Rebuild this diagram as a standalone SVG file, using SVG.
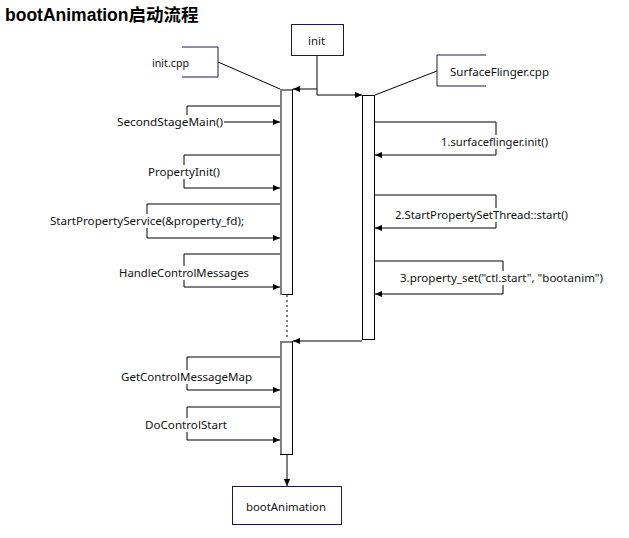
<svg xmlns="http://www.w3.org/2000/svg" width="629" height="538" viewBox="0 0 629 538">
<defs>
<marker id="arr" viewBox="0 0 8 8" refX="8" refY="4" markerWidth="7" markerHeight="7" markerUnits="userSpaceOnUse" orient="auto">
<path d="M0,0.5 L8,4 L0,7.5 Z" fill="#000"/>
</marker>
<style>
.t{font-family:"Noto Sans","Liberation Sans",sans-serif;font-size:11.5px;fill:#111;}
.box{fill:#fff;stroke:#1a1a4a;stroke-width:1;}
.note{fill:none;stroke:#1a1a4a;stroke-width:1;}
.act{fill:#fff;stroke:#000;stroke-width:1;}
.sh{fill:none;stroke:#808080;stroke-width:2;}
.c{fill:none;stroke:#000;stroke-width:1;}
.ca{fill:none;stroke:#000;stroke-width:1;marker-end:url(#arr);}
.bg{fill:#fff;stroke:none;}
</style>
</defs>
<rect width="629" height="538" fill="#fff"/>
<text x="5" y="21" font-family="'Liberation Sans','Noto Sans CJK SC',sans-serif" font-size="17.5" font-weight="bold" fill="#000">bootAnimation启动流程</text>

<g id="connectors">
<path class="c" d="M218,62 L280,89" stroke="#1a1a4a"/>
<path class="c" d="M437,71 L375,95" stroke="#1a1a4a"/>
<path class="c" d="M317,56 V95"/>
<path class="ca" d="M317,89 H293"/>
<path class="ca" d="M317,95 H362"/>
<path class="c" d="M287,295 V340" stroke-dasharray="2,3"/>
<path class="ca" d="M362,341 H293"/>
<path class="ca" d="M287,455 V486"/>
<g id="selfcalls">
<path class="ca" d="M280,106 H187 V122 H280"/>
<rect class="bg" x="116" y="115" width="108" height="14"/>
<text class="t" x="117" y="126" textLength="106" lengthAdjust="spacingAndGlyphs">SecondStageMain()</text>

<path class="ca" d="M280,155 H184 V188 H280"/>
<rect class="bg" x="147" y="165" width="74" height="14"/>
<text class="t" x="148" y="176" textLength="72" lengthAdjust="spacingAndGlyphs">PropertyInit()</text>

<path class="ca" d="M280,204 H147 V238 H280"/>
<rect class="bg" x="49" y="214" width="196" height="14"/>
<text class="t" x="50" y="225" textLength="194" lengthAdjust="spacingAndGlyphs">StartPropertyService(&amp;property_fd);</text>

<path class="ca" d="M280,254 H184 V287 H280"/>
<rect class="bg" x="118" y="266" width="132" height="14"/>
<text class="t" x="119" y="277" textLength="130" lengthAdjust="spacingAndGlyphs">HandleControlMessages</text>

<path class="ca" d="M280,357 H187 V390 H280"/>
<rect class="bg" x="120" y="370" width="133" height="14"/>
<text class="t" x="121" y="381" textLength="131" lengthAdjust="spacingAndGlyphs">GetControlMessageMap</text>

<path class="ca" d="M280,407 H187 V440 H280"/>
<rect class="bg" x="144" y="418" width="84" height="14"/>
<text class="t" x="145" y="429" textLength="82" lengthAdjust="spacingAndGlyphs">DoControlStart</text>

<path class="ca" d="M375,122 H496 V155 H375"/>
<rect class="bg" x="440" y="135" width="109" height="14"/>
<text class="t" x="441" y="146" textLength="107" lengthAdjust="spacingAndGlyphs">1.surfaceflinger.init()</text>

<path class="ca" d="M375,195 H496 V228 H375"/>
<rect class="bg" x="394" y="208" width="175" height="14"/>
<text class="t" x="395" y="219" textLength="173" lengthAdjust="spacingAndGlyphs">2.StartPropertySetThread::start()</text>

<path class="ca" d="M375,261 H503 V294 H375"/>
<rect class="bg" x="399" y="271" width="205" height="14"/>
<text class="t" x="400" y="282" textLength="203" lengthAdjust="spacingAndGlyphs">3.property_set("ctl.start", "bootanim")</text>
</g>
</g>

<g id="node-initcpp">
<path class="note" d="M182,47 H218 V77 H182"/>
<text class="t" x="152" y="67" textLength="37" lengthAdjust="spacingAndGlyphs">init.cpp</text>
</g>
<g id="node-init">
<rect class="box" x="291.5" y="24.5" width="52" height="31"/>
<text class="t" x="308" y="45" textLength="17" lengthAdjust="spacingAndGlyphs">init</text>
</g>
<g id="node-surfaceflinger">
<path class="note" d="M486,55 H437 V86 H486"/>
<text class="t" x="450" y="76" textLength="99" lengthAdjust="spacingAndGlyphs">SurfaceFlinger.cpp</text>
</g>
<g id="node-init-activation1">
<rect class="act" x="280.5" y="89.5" width="12" height="205"/>
<path class="sh" d="M281,295 V90 H292"/>
</g>
<g id="node-init-activation2">
<rect class="act" x="280.5" y="341.5" width="12" height="113"/>
<path class="sh" d="M281,454 V342 H292"/>
</g>
<g id="node-sf-activation">
<rect class="act" x="362.5" y="95.5" width="12" height="244"/>
</g>
<g id="node-bootanimation">
<rect class="box" x="232.5" y="486.5" width="109" height="38"/>
<text class="t" x="246" y="511" textLength="80" lengthAdjust="spacingAndGlyphs">bootAnimation</text>
</g>
</svg>
